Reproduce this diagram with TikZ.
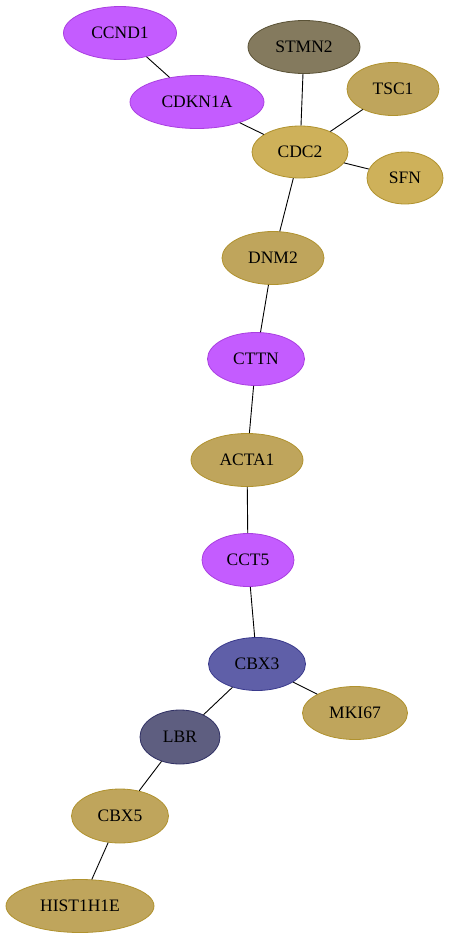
\documentclass[tikz,border=0pt]{standalone}
\usepackage{fontspec}
\setmainfont{Liberation Serif}
\usetikzlibrary{shapes.geometric}
\definecolor{purp}{HTML}{C45CFF}
\definecolor{purpd}{HTML}{A93FE0}
\definecolor{gold}{HTML}{BFA55C}
\definecolor{goldd}{HTML}{B0922E}
\definecolor{goldb}{HTML}{CEB15A}
\definecolor{olive}{HTML}{847A5E}
\definecolor{olived}{HTML}{5A5236}
\definecolor{blu}{HTML}{5F5FA8}
\definecolor{blud}{HTML}{3A3A8C}
\definecolor{slate}{HTML}{5E5E80}
\definecolor{slated}{HTML}{303064}
\tikzset{
  gn/.style={ellipse, inner sep=0pt, font=\fontsize{17.5}{20}\selectfont, line width=0.8pt},
  np/.style={gn, fill=purp, draw=purpd},
  ng/.style={gn, fill=gold, draw=goldd},
  nb/.style={gn, fill=goldb, draw=goldd},
  no/.style={gn, fill=olive, draw=olived},
  nblue/.style={gn, fill=blu, draw=blud},
  nslate/.style={gn, fill=slate, draw=slated},
  edge/.style={draw=black, line width=0.9pt}
}
\begin{document}
\begin{tikzpicture}[x=1pt,y=-1pt]
\useasboundingbox (0,0) rectangle (452,940);
\node[np, minimum width=113pt, minimum height=53pt] (ccnd1) at (120,33) {CCND1};
\node[no, minimum width=112pt, minimum height=53pt] (stmn2) at (304,47) {STMN2};
\node[ng, minimum width=92pt, minimum height=53pt] (tsc1) at (393,89) {TSC1};
\node[np, minimum width=134pt, minimum height=53pt] (cdkn1a) at (197,102) {CDKN1A};
\node[nb, minimum width=96pt, minimum height=52pt] (cdc2) at (300,152) {CDC2};
\node[nb, minimum width=76pt, minimum height=52pt] (sfn) at (405,178) {SFN};
\node[ng, minimum width=102pt, minimum height=53pt] (dnm2) at (273,258) {DNM2};
\node[np, minimum width=97pt, minimum height=53pt] (cttn) at (256,359) {CTTN};
\node[ng, minimum width=112pt, minimum height=53pt] (acta1) at (247,460) {ACTA1};
\node[np, minimum width=92pt, minimum height=53pt] (cct5) at (248,560) {CCT5};
\node[nblue, minimum width=97pt, minimum height=53pt] (cbx3) at (257,664) {CBX3};
\node[ng, minimum width=105pt, minimum height=53pt] (mki67) at (355,713) {MKI67};
\node[nslate, minimum width=80pt, minimum height=54pt] (lbr) at (180,737) {LBR};
\node[ng, minimum width=97pt, minimum height=54pt] (cbx5) at (120,816) {CBX5};
\node[ng, minimum width=148pt, minimum height=53pt] (hist) at (80,906) {HIST1H1E};
\begin{scope}[on background layer/.style={}]
\end{scope}
\draw[edge] (ccnd1) -- (cdkn1a);
\draw[edge] (cdkn1a) -- (cdc2);
\draw[edge] (stmn2) -- (cdc2);
\draw[edge] (tsc1) -- (cdc2);
\draw[edge] (sfn) -- (cdc2);
\draw[edge] (cdc2) -- (dnm2);
\draw[edge] (dnm2) -- (cttn);
\draw[edge] (cttn) -- (acta1);
\draw[edge] (acta1) -- (cct5);
\draw[edge] (cct5) -- (cbx3);
\draw[edge] (cbx3) -- (mki67);
\draw[edge] (cbx3) -- (lbr);
\draw[edge] (lbr) -- (cbx5);
\draw[edge] (cbx5) -- (hist);
\end{tikzpicture}
\end{document}
